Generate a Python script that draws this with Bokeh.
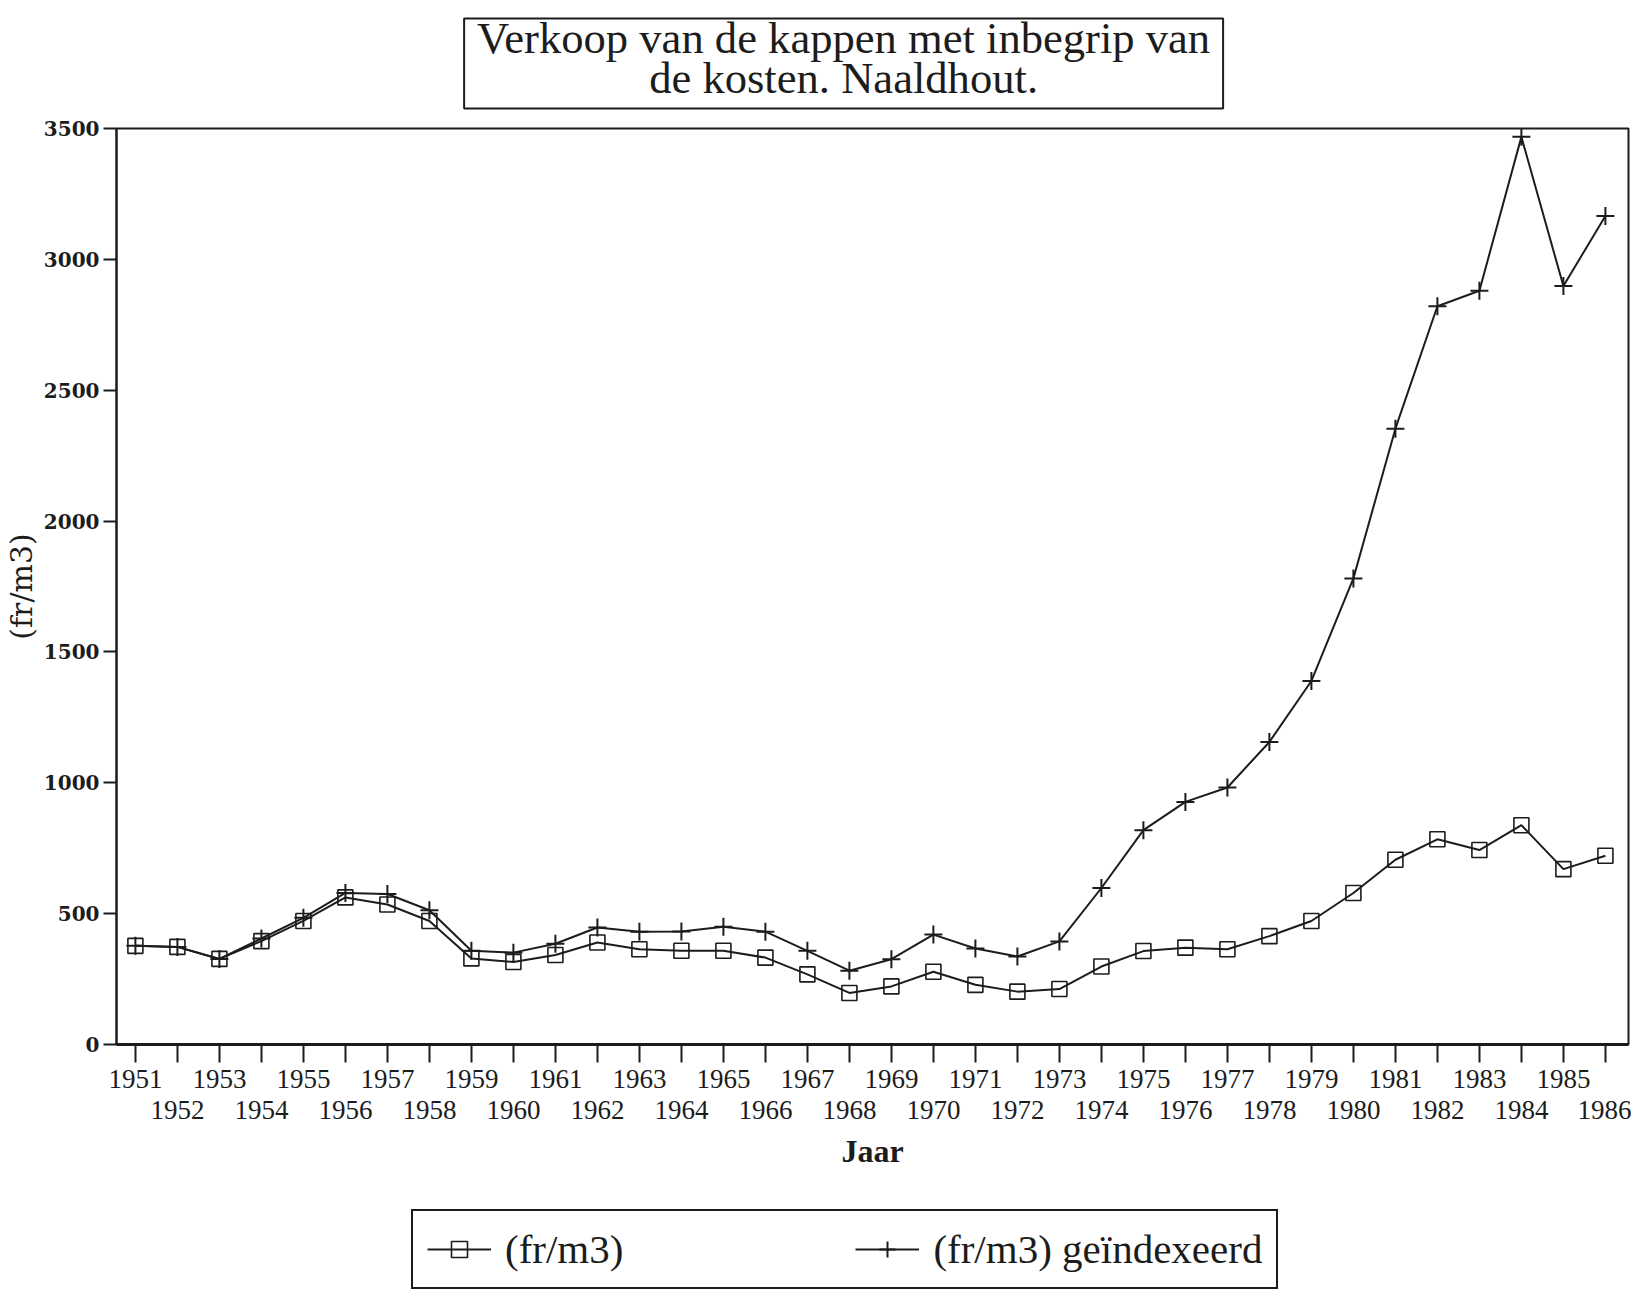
from bokeh.plotting import figure
from bokeh.layouts import column
from bokeh.models import (Range1d, FixedTicker, LinearAxis, Legend, LegendItem,
                          ColumnDataSource, Label, BoxAnnotation)
from bokeh.embed import file_html
from bokeh.resources import INLINE

# ---------------- data ----------------
years = list(range(1951, 1987))
prijs = [377, 373, 327, 395, 472, 562, 535, 472, 329, 315, 342, 390,
         364, 358, 358, 332, 268, 197, 222, 278, 228, 202, 212, 298,
         357, 370, 364, 414, 472, 579, 706, 784, 743, 838, 670, 721]
prijs_index = [377, 373, 327, 405, 484, 579, 575, 513, 358, 351, 385, 447,
               431, 432, 450, 431, 358, 282, 326, 420, 367, 336, 394, 598,
               819, 927, 982, 1156, 1389, 1781, 2353, 2821, 2880, 3468, 2898, 3166]
y_ticks = [0, 500, 1000, 1500, 2000, 2500, 3000, 3500]
title_lines = ["Verkoop van de kappen met inbegrip van", "de kosten. Naaldhout."]
x_title = "Jaar"
y_title = "(fr/m3)"
series_names = ["(fr/m3)", "(fr/m3) geïndexeerd"]

# ---------------- layout ----------------
W = 1631
FL, FR = 110, 1628          # frame left/right (figure px); shared by the column
INK = "#1c1c1c"
SERIF = "Liberation Serif"

# ---- header (boxed title) ----
HH = 110
head = figure(width=W, height=HH, x_range=Range1d(FL, FR), y_range=Range1d(HH, 0),
              output_backend="svg", toolbar_location=None, min_border=0,
              min_border_left=FL, min_border_right=W - FR,
              x_axis_type=None, y_axis_type=None, title=None,
              background_fill_color="white", border_fill_color="white")
head.xgrid.visible = False
head.ygrid.visible = False
head.outline_line_color = None
head.add_layout(BoxAnnotation(left=459, right=1221, top=18, bottom=108,
                              fill_color=None, line_color=INK, line_alpha=1,
                              line_width=2))
for txt, base in zip(title_lines, [37, 77]):
    head.add_layout(Label(x=840, y=base, text=txt, text_align="center",
                          text_baseline="alphabetic", text_font=SERIF,
                          text_font_size="44.6px", text_color=INK))

# ---- main chart ----
FT, FH, FB_BORDER = 18, 916, 140
HM = FT + FH + FB_BORDER
X0, X1 = 1950.55, 1986.55
p = figure(width=W, height=HM, x_range=Range1d(X0, X1), y_range=Range1d(0, 3500),
           output_backend="svg", toolbar_location=None, title=None,
           min_border_left=FL, min_border_top=FT, min_border_right=W - FR,
           min_border_bottom=FB_BORDER, background_fill_color="white",
           border_fill_color="white")
p.xgrid.visible = False
p.ygrid.visible = False
p.outline_line_color = INK
p.outline_line_width = 2

ax = p.xaxis[0]
ax.ticker = FixedTicker(ticks=years)
ax.major_label_overrides = {y: ("" if y % 2 == 0 else str(y)) for y in years}
ax.major_tick_out = 18
ax.major_tick_in = 0
ax.minor_tick_line_color = None
ax.axis_line_width = 3
ax.axis_line_color = INK
ax.major_tick_line_color = INK
ax.major_tick_line_width = 2
ax.major_label_standoff = 7
ax.major_label_text_font = SERIF
ax.major_label_text_font_size = "27px"
ax.major_label_text_color = INK

ax2 = LinearAxis(ticker=FixedTicker(ticks=[y for y in years if y % 2 == 0]))
ax2.major_label_overrides = {y: str(y) for y in years if y % 2 == 0}
ax2.axis_line_color = None
ax2.major_tick_line_color = None
ax2.minor_tick_line_color = None
ax2.major_tick_out = 0
ax2.major_tick_in = 0
ax2.major_label_standoff = 10
ax2.major_label_text_font = SERIF
ax2.major_label_text_font_size = "27px"
ax2.major_label_text_color = INK
ax2.axis_label = x_title
ax2.axis_label_text_font = SERIF
ax2.axis_label_text_font_style = "bold"
ax2.axis_label_text_font_size = "32px"
ax2.axis_label_text_color = INK
ax2.axis_label_standoff = 11
p.add_layout(ax2, "below")

ay = p.yaxis[0]
ay.ticker = FixedTicker(ticks=y_ticks)
ay.major_tick_out = 13
ay.major_tick_in = 0
ay.minor_tick_line_color = None
ay.axis_line_width = 2
ay.axis_line_color = INK
ay.major_tick_line_color = INK
ay.major_tick_line_width = 2
ay.major_label_standoff = 4
ay.major_label_text_font = "DejaVu Serif"
ay.major_label_text_font_style = "bold"
ay.major_label_text_font_size = "20px"
ay.major_label_text_color = INK
ay.axis_label = y_title
ay.axis_label_text_font = "DejaVu Serif"
ay.axis_label_text_font_style = "normal"
ay.axis_label_text_font_size = "30px"
ay.axis_label_text_color = INK
ay.axis_label_standoff = 2

src = ColumnDataSource(dict(year=years, prijs=prijs, prijs_index=prijs_index))
LINE1 = dict(line_color=INK, line_width=2)
SQ = dict(marker="square", size=15, fill_alpha=0, line_color=INK, line_width=1.6)
CR = dict(marker="cross", size=18, line_color=INK, line_width=2)

p.line("year", "prijs", source=src, **LINE1)
p.scatter("year", "prijs", source=src, **SQ)
p.line("year", "prijs_index", source=src, **LINE1)
p.scatter("year", "prijs_index", source=src, **CR)

# ---- legend strip (legend keys only; its renderers are hidden) ----
HL = 1290 - HH - HM
leg = figure(width=W, height=HL, x_range=Range1d(X0, X1), y_range=Range1d(0, 3500),
             output_backend="svg", toolbar_location=None, min_border=0,
             min_border_left=FL, min_border_right=W - FR,
             x_axis_type=None, y_axis_type=None, title=None,
             background_fill_color="white", border_fill_color="white")
leg.xgrid.visible = False
leg.ygrid.visible = False
leg.outline_line_color = None
k1 = leg.line("year", "prijs", source=src, visible=False, **LINE1)
k2 = leg.scatter("year", "prijs", source=src, visible=False, **SQ)
k3 = leg.line("year", "prijs_index", source=src, visible=False, **LINE1)
k4 = leg.scatter("year", "prijs_index", source=src, visible=False, **CR)
legend = Legend(items=[LegendItem(label=series_names[0], renderers=[k1, k2]),
                       LegendItem(label=series_names[1], renderers=[k3, k4])],
                orientation="horizontal", location=(405 - FL, 1),
                border_line_color=INK, border_line_width=2, border_line_alpha=1,
                background_fill_color="white", background_fill_alpha=1,
                inactive_fill_alpha=0,
                padding=14, spacing=232, glyph_width=64, glyph_height=40,
                label_standoff=14, label_text_font=SERIF,
                label_text_font_size="41px", label_text_color=INK, margin=0)
leg.add_layout(legend, "center")

layout = column(head, p, leg, spacing=0)
open("out.html", "w").write(file_html(layout, INLINE))
